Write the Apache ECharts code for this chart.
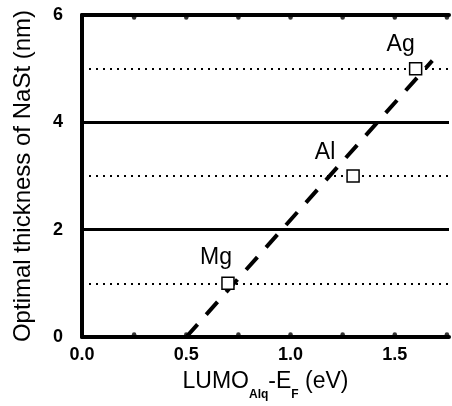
<!DOCTYPE html>
<html><head><meta charset="utf-8">
<script src="https://cdn.jsdelivr.net/npm/echarts@6/dist/echarts.min.js"></script>
<style>html,body{margin:0;padding:0;background:#fff}#c{width:452px;height:406px}</style>
</head><body><div id="c"></div>
<script>
// Data
const metals = ['Mg', 'Al', 'Ag'];
const lumoMinusEf = [0.70, 1.30, 1.60];
const thickness = [1, 3, 5];
const fitX = [0.50, 1.68];
const fitY = [0, 5.15];
const solidLevels = [2, 4];
const dottedLevels = [1, 3, 5];
const xTicks = ['0.0', '0.5', '1.0', '1.5'];
const xTickValues = [0.25, 0.5, 0.75, 1.0, 1.25, 1.5, 1.75];
const yFrame = [0, 6];

// Presentation only
const labelOffsets = [[-12, -2], [-28, 0], [-15, -1]];

const chart = echarts.init(document.getElementById('c'));
const F = '"Liberation Sans", Arial, sans-serif';
function xAxisDef(pos) {
  return {
    type: 'value', min: 0, max: 1.76, interval: 0.25, position: pos,
    axisLine: { show: true, onZero: false, lineStyle: { color: '#000', width: 4 } },
    axisTick: { show: false },
    splitLine: { show: false }
  };
}
const bottomAxis = Object.assign(xAxisDef('bottom'), {
  axisLabel: {
    show: true, margin: 9, color: '#000', fontFamily: F, fontWeight: 'bold', fontSize: 18,
    formatter: v => { const s = v.toFixed(1); return xTicks.includes(s) && Math.abs(v*2 - Math.round(v*2)) < 1e-6 ? s : ''; }
  },
  name: '{m|LUMO}{s|Alq}{m|-E}{s|F}{m| (eV)}',
  nameLocation: 'middle', nameGap: 28,
  nameTextStyle: {
    rich: {
      m: { fontFamily: F, fontSize: 23, color: '#000', verticalAlign: 'bottom', lineHeight: 28 },
      s: { fontFamily: F, fontSize: 12, fontWeight: 'bold', color: '#000', verticalAlign: 'bottom', lineHeight: 14, padding: [0, 0, -8, 0] }
    }
  }
});
const topAxis = Object.assign(xAxisDef('top'), { axisLabel: { show: false } });

const tickSeries = yFrame.map((y, k) => ({
  type: 'scatter', xAxisIndex: 0, silent: true, clip: false,
  data: xTickValues.map(x => [x, y]),
  symbol: 'circle', symbolSize: 4.5, symbolOffset: [0, k === 0 ? -2.5 : 2.5],
  itemStyle: { color: '#000' }, z: 6
}));

chart.setOption({
  animation: false,
  backgroundColor: '#fff',
  grid: { left: 82, top: 15, right: 0, bottom: 69 },
  xAxis: [bottomAxis, topAxis],
  yAxis: {
    type: 'value', min: 0, max: 6, interval: 2,
    axisLine: { show: true, lineStyle: { color: '#000', width: 4 } },
    axisTick: { show: false },
    splitLine: { show: false },
    axisLabel: { margin: 19, color: '#000', fontFamily: F, fontWeight: 'bold', fontSize: 18 },
    name: 'Optimal thickness of NaSt (nm)', nameLocation: 'middle', nameGap: 47,
    nameTextStyle: { fontFamily: F, fontSize: 24, color: '#000' }
  },
  series: [
    {
      type: 'line', xAxisIndex: 0, data: fitX.map((x, i) => [x, fitY[i]]),
      symbol: 'none', lineStyle: { color: '#000', width: 4, type: [17, 13] }, z: 3,
      markLine: {
        silent: true, symbol: 'none', label: { show: false },
        data: solidLevels.map(y => ({ yAxis: y, lineStyle: { type: 'solid', width: 3, color: '#000' } }))
          .concat(dottedLevels.map(y => ({ yAxis: y, lineStyle: { type: [2, 5], width: 2, color: '#000' } })))
      }
    },
    { type: 'line', xAxisIndex: 1, data: [], showSymbol: false },
    {
      type: 'scatter', xAxisIndex: 0,
      data: lumoMinusEf.map((x, i) => ({ value: [x, thickness[i]], name: metals[i],
        label: { offset: labelOffsets[i], color: '#000' } })),
      symbol: 'rect', symbolSize: 12,
      itemStyle: { color: '#fff', borderColor: '#000', borderWidth: 1.5, opacity: 1 },
      label: { show: true, position: 'top', distance: 5, formatter: p => p.name,
        fontFamily: F, fontSize: 23, color: '#000', opacity: 1 },
      emphasis: { disabled: true },
      z: 5
    }
  ].concat(tickSeries)
});
</script></body></html>
